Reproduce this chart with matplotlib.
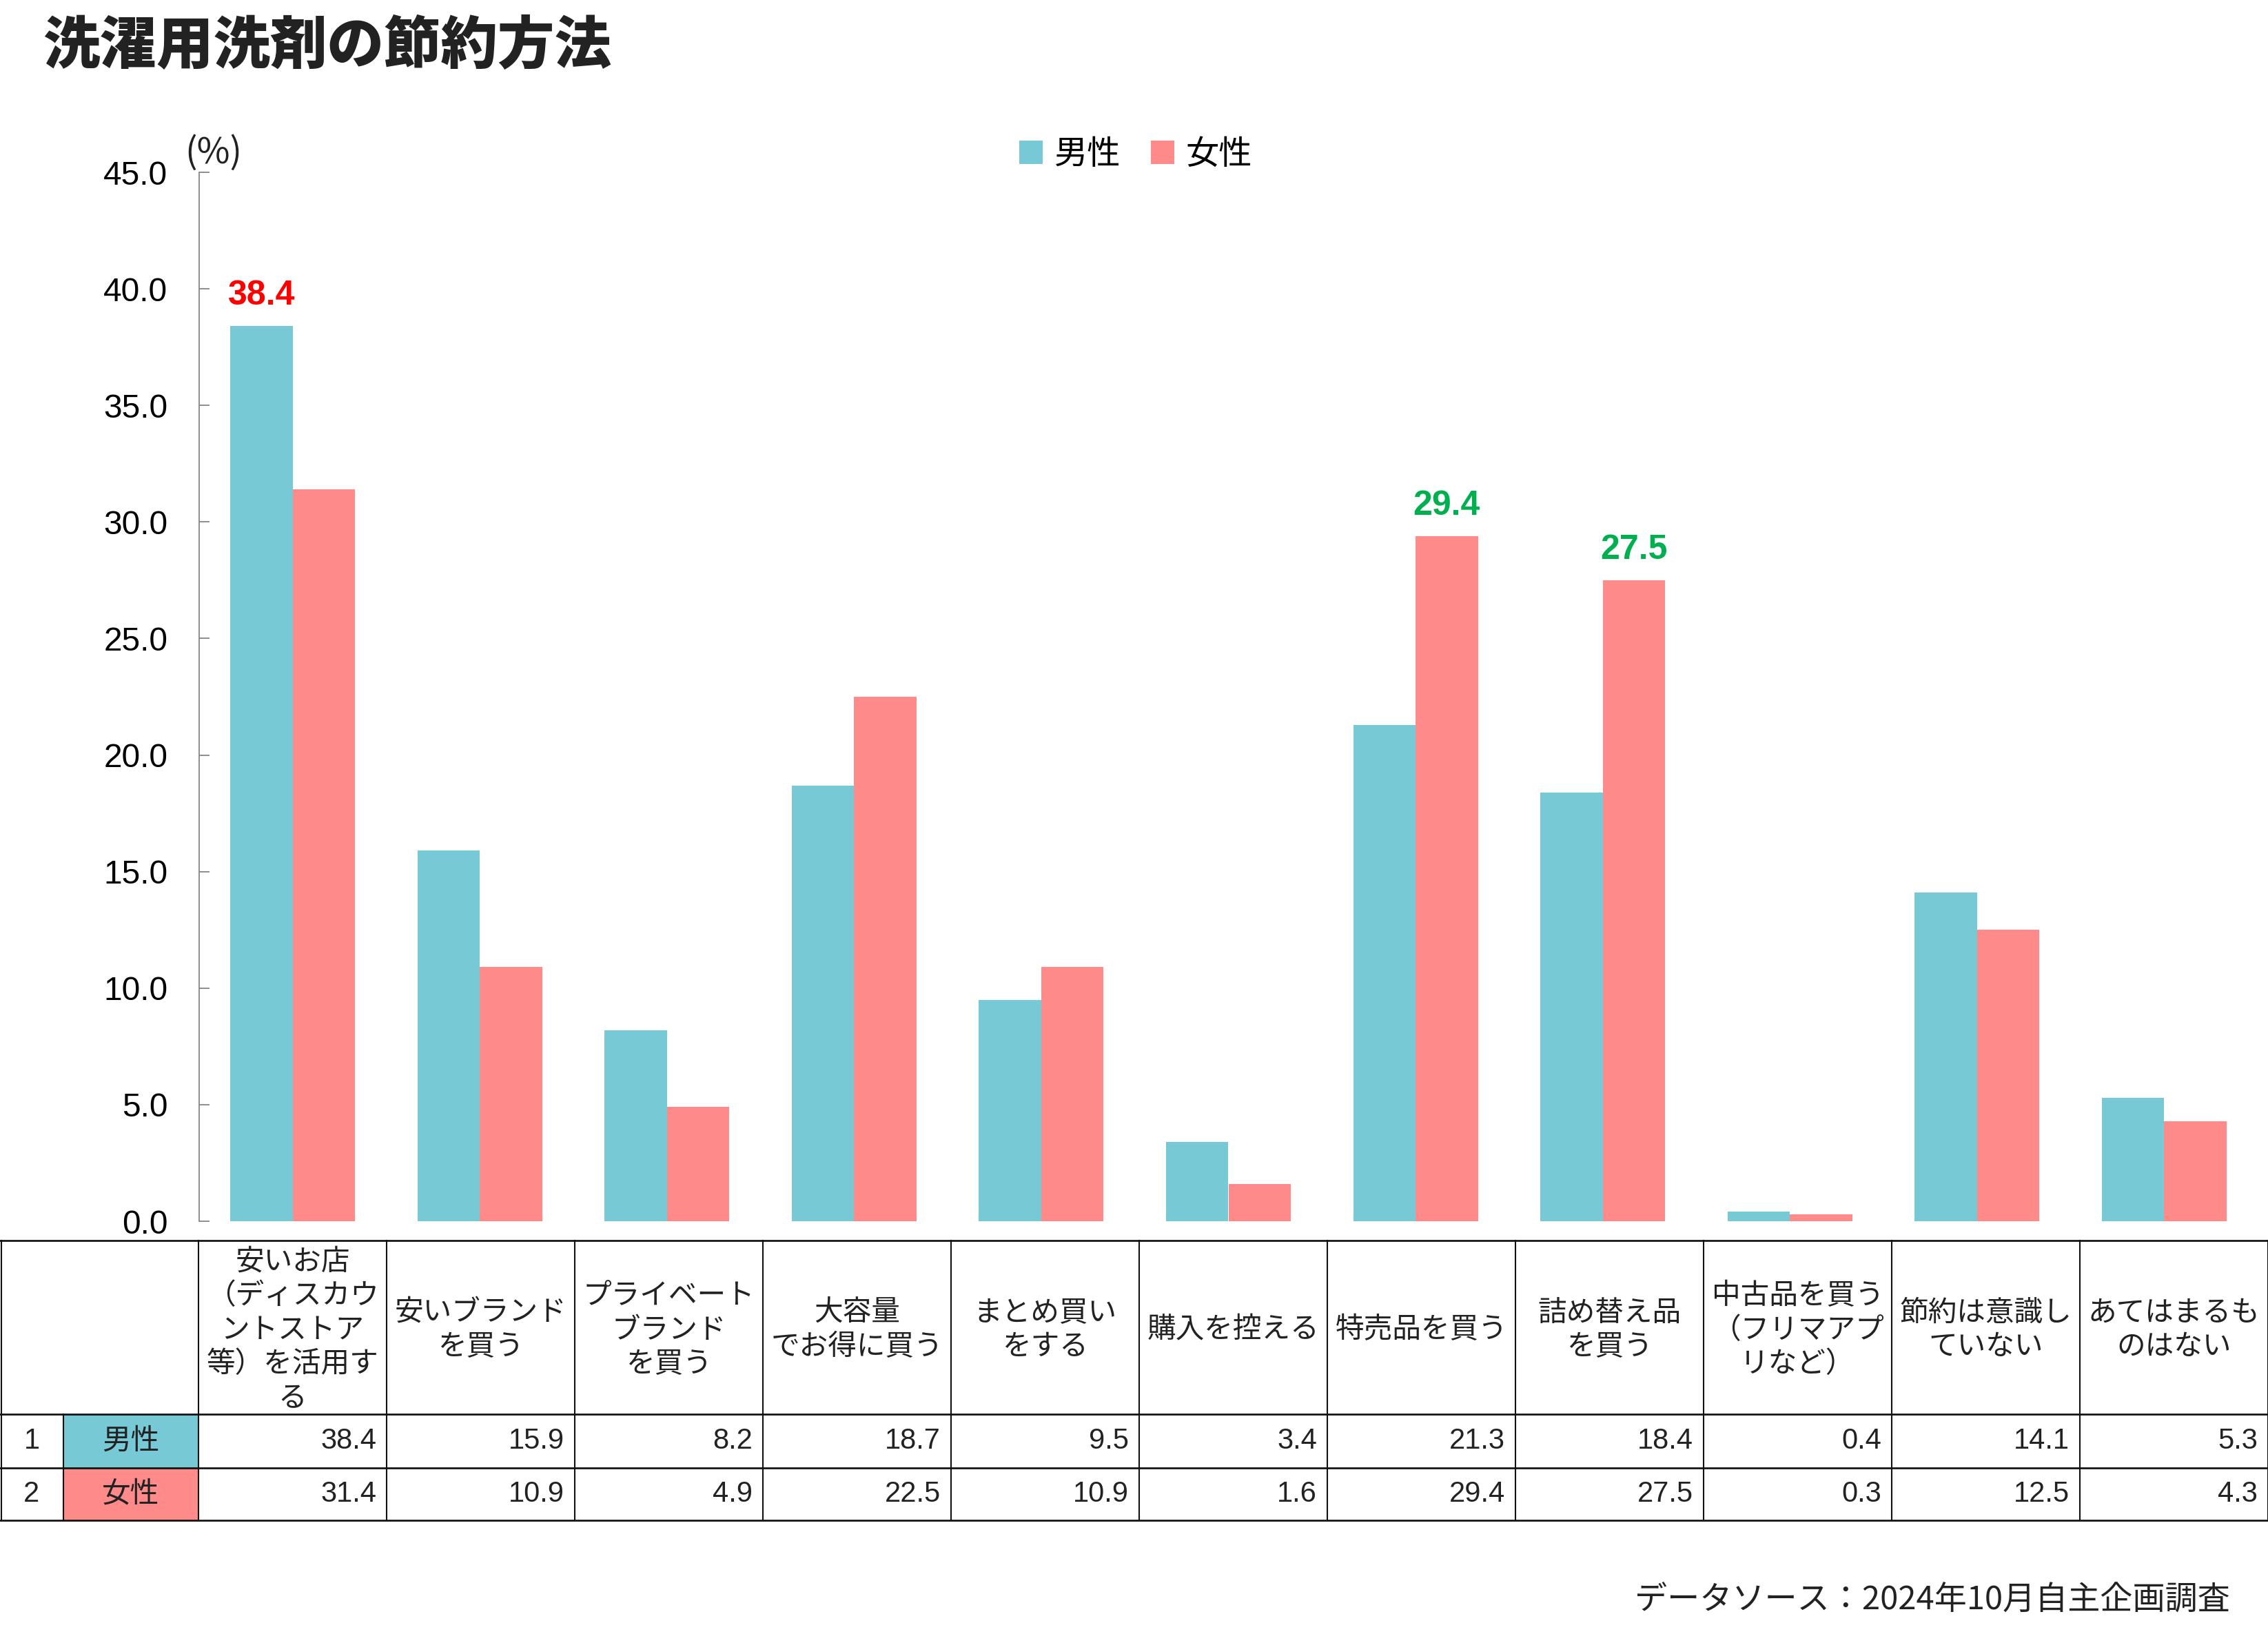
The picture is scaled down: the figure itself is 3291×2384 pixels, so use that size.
import numpy as np
import matplotlib
matplotlib.use('Agg')
import matplotlib.pyplot as plt
from matplotlib.patches import Rectangle
from matplotlib.lines import Line2D

# ---------------- data ----------------
title = '洗濯用洗剤の節約方法'
source = 'データソース：2024年10月自主企画調査'
unit_label = '(%)'
categories = [
    '安いお店\n（ディスカウ\nントストア\n等）を活用す\nる',
    '安いブランド\nを買う',
    'プライベート\nブランド\nを買う',
    '大容量\nでお得に買う',
    'まとめ買い\nをする',
    '購入を控える',
    '特売品を買う',
    '詰め替え品\nを買う',
    '中古品を買う\n（フリマアプ\nリなど）',
    '節約は意識し\nていない',
    'あてはまるも\nのはない',
]
series_names = ['男性', '女性']
male = [38.4, 15.9, 8.2, 18.7, 9.5, 3.4, 21.3, 18.4, 0.4, 14.1, 5.3]
female = [31.4, 10.9, 4.9, 22.5, 10.9, 1.6, 29.4, 27.5, 0.3, 12.5, 4.3]
yticks = [0, 5, 10, 15, 20, 25, 30, 35, 40, 45]
# (series index, category index, colour) of highlighted value labels
highlights = [(0, 0, '#FF0000'), (1, 6, '#00B050'), (1, 7, '#00B050')]

C_M = '#78C9D6'
C_F = '#FF8A8A'
TXT = '#222222'
CJK = 'Noto Sans CJK JP'
LAT = 'Liberation Sans'

plt.rcParams['font.family'] = [LAT, CJK]

W, H, DPI = 3291, 2384, 300
fig = plt.figure(figsize=(W / DPI, H / DPI), dpi=DPI)
fig.patch.set_facecolor('white')

def fx(px):
    return px / W

def fy(py):
    return 1 - py / H

n = len(categories)
ax = fig.add_axes([fx(289), fy(1772), fx(3276) - fx(289), fy(250) - fy(1772)])
x = np.arange(n)
bw = 1 / 3
series = [male, female]
colors = [C_M, C_F]
bars = []
for k, (vals, col, name) in enumerate(zip(series, colors, series_names)):
    b = ax.bar(x + (k - 0.5) * bw, vals, bw, color=col, label=name, linewidth=0)
    bars.append(b)

ax.set_xlim(-0.5, n - 0.5)
ax.set_ylim(0, 45)
ax.set_yticks(yticks)
ax.set_yticklabels([f'{v:.1f}' for v in yticks], family=LAT)
ax.set_xticks([])
for s in ['top', 'right', 'bottom']:
    ax.spines[s].set_visible(False)
ax.spines['left'].set_color('#898989')
ax.spines['left'].set_linewidth(0.45)
ax.tick_params(axis='y', direction='in', length=3.6, width=0.45, color='#898989',
               pad=11, labelsize=11.5, labelcolor='black')

# highlighted value labels
for k, i, col in highlights:
    v = series[k][i]
    ax.annotate(f'{v:.1f}', xy=(i + (k - 0.5) * bw, v), xytext=(0, 7.4),
                textcoords='offset points', ha='center', va='baseline',
                color=col, fontsize=12, fontweight='bold', family=LAT,
                annotation_clip=False)

# unit label
fig.text(fx(268), fy(222), unit_label, ha='left', va='center', fontsize=12.5,
         family=CJK, color=TXT)

# legend
ax.legend(handles=bars, loc='center', bbox_to_anchor=(fx(1648), fy(224)),
          bbox_transform=fig.transFigure, ncol=2, frameon=False,
          handlelength=0.7, handleheight=0.7, handletextpad=0.35,
          columnspacing=0.9, borderaxespad=0, borderpad=0,
          prop={'family': CJK, 'size': 11.6})

# title and source
fig.text(fx(62), fy(68), title, ha='left', va='center', fontsize=19.8,
         fontweight='heavy', family=CJK, color=TXT)
fig.text(fx(3236), fy(2322), source, ha='right', va='center', fontsize=11.3,
         family=CJK, color=TXT)

# ---------------- table ----------------
tab_left, col_w = 288, 273.0
y_top, y_h, y_r1, y_r2 = 1800, 2052, 2130, 2206
col_edges = [tab_left + i * col_w for i in range(n + 1)]
tab_right = col_edges[-1]

# label cell backgrounds
for k, col in enumerate(colors):
    ya = [y_h, y_r1][k]
    yb = [y_r1, y_r2][k]
    fig.add_artist(Rectangle((fx(92), fy(yb)), fx(288) - fx(92), fy(ya) - fy(yb),
                             transform=fig.transFigure, facecolor=col,
                             edgecolor='none', zorder=1))

# horizontal lines
for yy in [y_top, y_h, y_r1, y_r2]:
    fig.add_artist(Line2D([0, fx(tab_right)], [fy(yy), fy(yy)], transform=fig.transFigure,
                          color='#111111', linewidth=0.65, zorder=3))
# vertical lines
for xe in [1.5] + col_edges:
    fig.add_artist(Line2D([fx(xe), fx(xe)], [fy(y_top), fy(y_r2)], transform=fig.transFigure,
                          color='#111111', linewidth=0.5, zorder=3))
fig.add_artist(Line2D([fx(92), fx(92)], [fy(y_h), fy(y_r2)], transform=fig.transFigure,
                      color='#111111', linewidth=0.5, zorder=3))

# header texts
for i, cat in enumerate(categories):
    xc = (col_edges[i] + col_edges[i + 1]) / 2
    fig.text(fx(xc), fy((y_top + y_h) / 2 + 4), cat, ha='center', va='center',
             fontsize=10, family=CJK, color=TXT, linespacing=1.27, zorder=4)

# data rows
row_centers = [(y_h + y_r1) / 2, (y_r1 + y_r2) / 2]
for k, (vals, name) in enumerate(zip(series, series_names)):
    yc = fy(row_centers[k])
    fig.text(fx(46), yc, str(k + 1), ha='center', va='center', fontsize=10,
             family=LAT, color=TXT, zorder=4)
    fig.text(fx(190), yc, name, ha='center', va='center', fontsize=10,
             family=CJK, color=TXT, zorder=4)
    for i, v in enumerate(vals):
        fig.text(fx(col_edges[i + 1] - 15), yc, f'{v:.1f}', ha='right', va='center',
                 fontsize=10, family=LAT, color=TXT, zorder=4)

fig.savefig('out.png', dpi=DPI)
